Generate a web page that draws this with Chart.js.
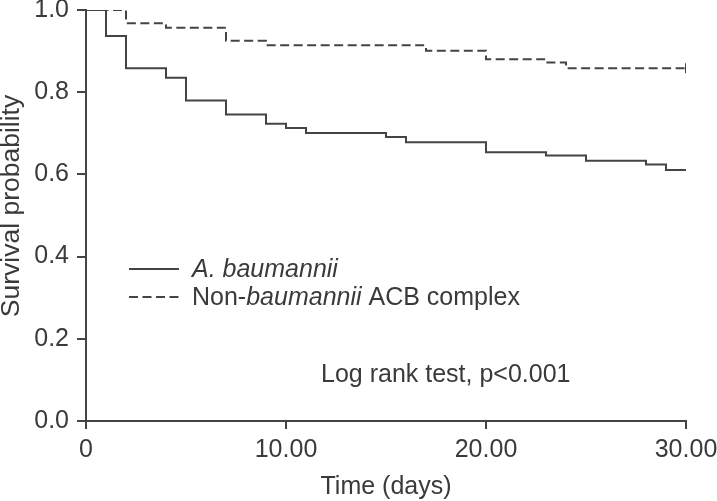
<!DOCTYPE html>
<html>
<head>
<meta charset="utf-8">
<script src="https://cdn.jsdelivr.net/npm/chart.js@4.4.0/dist/chart.umd.min.js"></script>
<style>
  html, body { margin: 0; padding: 0; background: #fff; }
  canvas { display: block; }
</style>
</head>
<body>
<canvas id="kmChart" width="717" height="501"></canvas>
<script>
// Kaplan-Meier estimates (time in days, survival probability)
const abTimes = [0, 1, 2, 4, 5, 7, 9, 10, 11, 15, 16, 20, 23, 25, 28, 29, 30];
const abSurvival = [1.0, 0.937, 0.858, 0.835, 0.780, 0.746, 0.723, 0.713, 0.701, 0.691, 0.678, 0.654, 0.646, 0.633, 0.624, 0.611, 0.611];
const nonAbTimes = [0, 2, 4, 7, 9, 17, 20, 23, 24, 30];
const nonAbSurvival = [1.0, 0.968, 0.957, 0.925, 0.914, 0.901, 0.880, 0.872, 0.858, 0.858];

const xTickValues = [0, 10, 20, 30];
const xTickLabels = ['0', '10.00', '20.00', '30.00'];
const yTickValues = [0, 0.2, 0.4, 0.6, 0.8, 1.0];
const yTickLabels = ['0.0', '0.2', '0.4', '0.6', '0.8', '1.0'];

const xTitle = 'Time (days)';
const yTitle = 'Survival probability';
const testNote = 'Log rank test, p<0.001';
// legend entries, split so parts of the species name can be set in italic
const legendParts = [
  [{ text: 'A. baumannii', italic: true }],
  [{ text: 'Non-', italic: false }, { text: 'baumannii', italic: true }, { text: ' ACB complex', italic: false }]
];

const FONT = "'Liberation Sans', Arial, sans-serif";
const SIZE = 25;
const INK = '#3a3a3a';
const LINE = '#444444';
const DASH = [9, 4.5];

function toPoints(times, values) {
  return times.map((t, i) => ({ x: t, y: values[i] }));
}

const annotations = {
  id: 'annotations',
  afterDraw(chart) {
    const ctx = chart.ctx;
    ctx.save();
    ctx.fillStyle = INK;
    ctx.textBaseline = 'alphabetic';

    // y axis title
    ctx.save();
    ctx.translate(19, 206);
    ctx.rotate(-Math.PI / 2);
    ctx.font = `26.5px ${FONT}`;
    ctx.textAlign = 'center';
    ctx.fillText(yTitle, 0, 0);
    ctx.restore();

    // legend
    const rows = [269, 297];
    rows.forEach((y, r) => {
      ctx.beginPath();
      ctx.strokeStyle = LINE;
      ctx.lineWidth = 2;
      ctx.setLineDash(r === 0 ? [] : DASH);
      ctx.moveTo(129, y);
      ctx.lineTo(179, y);
      ctx.stroke();
      ctx.setLineDash([]);

      let x = 192;
      ctx.textAlign = 'left';
      legendParts[r].forEach(part => {
        ctx.font = `${part.italic ? 'italic ' : ''}${SIZE}px ${FONT}`;
        ctx.fillText(part.text, x, y + 8);
        x += ctx.measureText(part.text).width;
      });
    });

    // test result
    ctx.font = `${SIZE}px ${FONT}`;
    ctx.textAlign = 'left';
    ctx.fillText(testNote, 321, 382);
    ctx.restore();
  }
};

const ctx = document.getElementById('kmChart').getContext('2d');
new Chart(ctx, {
  type: 'line',
  data: {
    datasets: [
      {
        label: legendParts[0].map(p => p.text).join(''),
        data: toPoints(abTimes, abSurvival),
        borderColor: LINE,
        borderWidth: 2,
        stepped: true,
        pointRadius: 0,
        fill: false
      },
      {
        label: legendParts[1].map(p => p.text).join(''),
        data: toPoints(nonAbTimes, nonAbSurvival),
        borderColor: LINE,
        borderWidth: 2,
        borderDash: DASH,
        stepped: true,
        // censoring tick at the end of follow-up
        pointStyle: 'line',
        rotation: 90,
        pointRadius: c => (c.dataIndex === nonAbTimes.length - 1 ? 5 : 0),
        pointBorderColor: LINE,
        pointBorderWidth: 2,
        fill: false
      }
    ]
  },
  options: {
    responsive: false,
    animation: false,
    layout: { padding: { top: 10, right: 31, left: 0, bottom: 0 } },
    plugins: {
      legend: { display: false },
      tooltip: { enabled: false }
    },
    scales: {
      x: {
        type: 'linear',
        min: 0,
        max: 30,
        afterBuildTicks: s => { s.ticks = xTickValues.map(v => ({ value: v })); },
        afterFit: s => { s.height = 80; s.paddingLeft = 0; s.paddingRight = 0; },
        ticks: {
          color: INK,
          font: { family: FONT, size: SIZE },
          padding: 6,
          maxRotation: 0,
          callback: (v, i) => xTickLabels[i]
        },
        grid: { drawOnChartArea: false, color: LINE, lineWidth: 2, tickLength: 8 },
        border: { color: LINE, width: 2 },
        title: {
          display: true,
          text: xTitle,
          color: INK,
          font: { family: FONT, size: SIZE },
          padding: { top: 0, bottom: -1 }
        }
      },
      y: {
        type: 'linear',
        min: 0,
        max: 1,
        afterBuildTicks: s => { s.ticks = yTickValues.map(v => ({ value: v })); },
        afterFit: s => { s.width = 86; s.paddingTop = 0; s.paddingBottom = 0; },
        ticks: {
          color: INK,
          font: { family: FONT, size: SIZE },
          padding: 8,
          callback: (v, i) => yTickLabels[i]
        },
        grid: { drawOnChartArea: false, color: LINE, lineWidth: 2, tickLength: 9 },
        border: { color: LINE, width: 2 }
      }
    }
  },
  plugins: [annotations]
});
</script>
</body>
</html>
